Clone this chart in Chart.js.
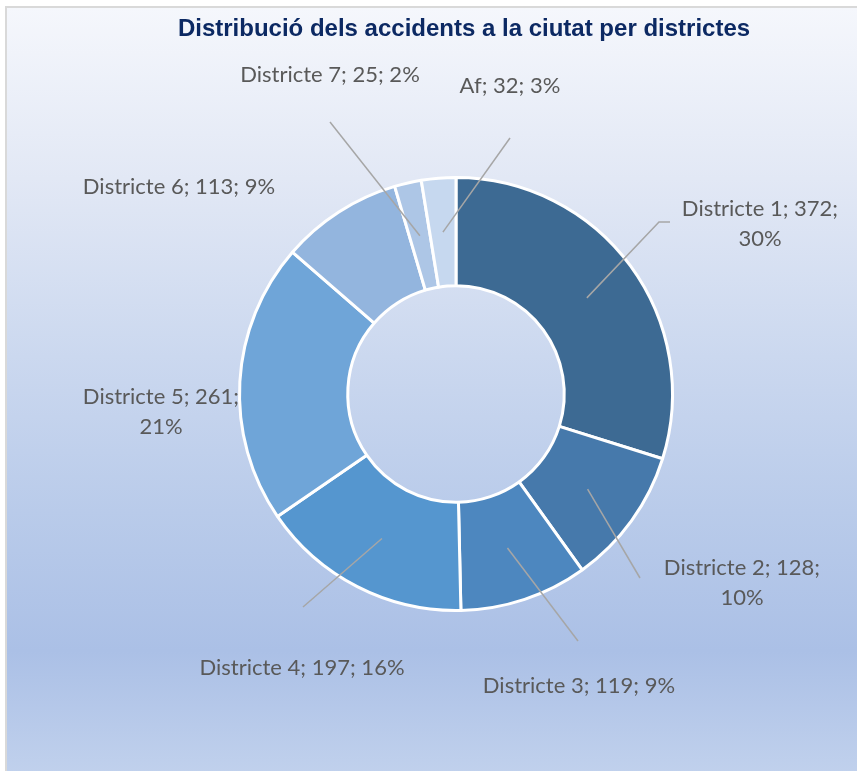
<!DOCTYPE html>
<html>
<head>
<meta charset="utf-8">
<script src="https://cdn.jsdelivr.net/npm/chart.js@4.4.0/dist/chart.umd.min.js"></script>
<style>
  html, body { margin: 0; padding: 0; background: #ffffff; width: 857px; height: 771px; overflow: hidden; }
  #bg {
    position: absolute; left: 5px; top: 6px; width: 860px; height: 775px;
    border-left: 2px solid #d9d9d9; border-top: 2px solid #d9d9d9;
    background: linear-gradient(to bottom, #f5f7fc 0%, #e2e8f5 22%, #cbd8ef 45%, #b9cbea 65%, #abc0e6 83%, #c2d2ed 100%);
  }
  #c { position: absolute; left: 0; top: 0; }
</style>
</head>
<body>
<div id="bg"></div>
<canvas id="c" width="857" height="771"></canvas>
<script>
// ---- data ----
const categories = ["Districte 1", "Districte 2", "Districte 3", "Districte 4", "Districte 5", "Districte 6", "Districte 7", "Af"];
const accidents = [372, 128, 119, 197, 261, 113, 25, 32];
const percentLabels = ["30%", "10%", "9%", "16%", "21%", "9%", "2%", "3%"];
const chartTitle = "Distribució dels accidents a la ciutat per districtes";

// ---- styles ----
const sliceColors = ["#3d6a93", "#4679ab", "#4d87bf", "#5596cf", "#6fa5d8", "#93b5de", "#adc6e6", "#c6d8ef"];

// label layout relative to doughnut centre (px): text lines centre, optional leader end
const labelLayout = [
  { lines: 2, tx: 304, ty: -185, lx: 203, ly: -172, stub: 11 },
  { lines: 2, tx: 286, ty: 174, lx: 184, ly: 184 },
  { lines: 1, tx: 123, ty: 292, lx: 122, ly: 247 },
  { lines: 1, tx: -154, ty: 274, lx: -153, ly: 213 },
  { lines: 2, tx: -295, ty: 3 },
  { lines: 1, tx: -277, ty: -207 },
  { lines: 1, tx: -126, ty: -319, lx: -126, ly: -272 },
  { lines: 1, tx: 54, ty: -308, lx: 54, ly: -256 }
];

const labelPlugin = {
  id: 'sliceLabels',
  afterDraw(chart) {
    const ctx = chart.ctx;
    const meta = chart.getDatasetMeta(0);
    // title
    ctx.save();
    ctx.font = 'bold 24px "Liberation Sans", Arial, sans-serif';
    ctx.fillStyle = '#0c2963';
    ctx.textAlign = 'center';
    ctx.textBaseline = 'middle';
    ctx.fillText(chartTitle, 464, 29);
    ctx.restore();

    meta.data.forEach((el, i) => {
      const p = el.getProps(['x', 'y', 'startAngle', 'endAngle', 'innerRadius', 'outerRadius'], true);
      const lay = labelLayout[i];
      const mid = (p.startAngle + p.endAngle) / 2;
      const r = (p.innerRadius + p.outerRadius) / 2;
      const sx = p.x + r * Math.cos(mid);
      const sy = p.y + r * Math.sin(mid);
      ctx.save();
      if (lay.lx !== undefined) {
        ctx.strokeStyle = '#a6a6a6';
        ctx.lineWidth = 1.5;
        ctx.beginPath();
        ctx.moveTo(sx, sy);
        ctx.lineTo(p.x + lay.lx, p.y + lay.ly);
        if (lay.stub) ctx.lineTo(p.x + lay.lx + lay.stub, p.y + lay.ly);
        ctx.stroke();
      }
      ctx.font = '22px Lato, "Open Sans", sans-serif';
      ctx.fillStyle = '#595959';
      ctx.textAlign = 'center';
      ctx.textBaseline = 'middle';
      const value = chart.data.datasets[0].data[i];
      const name = chart.data.labels[i];
      const cx = p.x + lay.tx, cy = p.y + lay.ty;
      if (lay.lines === 2) {
        ctx.fillText(name + '; ' + value + ';', cx, cy);
        ctx.fillText(percentLabels[i], cx, cy + 30);
      } else {
        ctx.fillText(name + '; ' + value + '; ' + percentLabels[i], cx, cy);
      }
      ctx.restore();
    });
  }
};

new Chart(document.getElementById('c'), {
  type: 'doughnut',
  data: {
    labels: categories,
    datasets: [{
      data: accidents,
      backgroundColor: sliceColors,
      borderColor: '#ffffff',
      borderWidth: 3
    }]
  },
  options: {
    responsive: false,
    animation: false,
    devicePixelRatio: 1,
    cutout: '50%',
    layout: { padding: { left: 238, right: 183, top: 176, bottom: 159 } },
    plugins: {
      legend: { display: false },
      tooltip: { enabled: false },
      title: { display: false }
    }
  },
  plugins: [labelPlugin]
});
</script>
</body>
</html>
